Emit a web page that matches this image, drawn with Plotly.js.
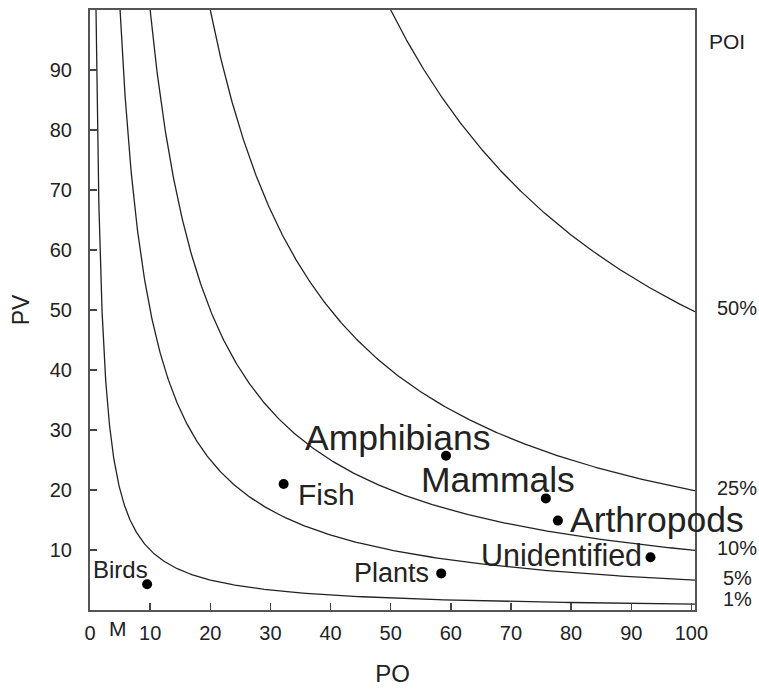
<!DOCTYPE html>
<html><head><meta charset="utf-8">
<script src="https://cdn.plot.ly/plotly-3.0.1.min.js"></script>
<style>html,body{margin:0;padding:0;background:#fff}#c{width:759px;height:691px}</style>
</head><body><div id="c"></div>
<script>
// Prey categories and their coordinates (PO = % occurrence, PV = % volume)
const categories = ["Birds","Fish","Plants","Amphibians","Mammals","Arthropods","Unidentified"];
const poValues   = [9.5, 32.2, 58.4, 59.2, 75.8, 77.8, 93.2];
const pvValues   = [4.3, 21.0, 6.1, 25.7, 18.6, 14.9, 8.8];
// Isoline constants (PO*PV) and their labels
const isoProducts = [100, 500, 1000, 2000, 5000];
const isoLabels   = ["1%","5%","10%","25%","50%"];
const xTicks = [0,10,20,30,40,50,60,70,80,90,100];
const yTicks = [10,20,30,40,50,60,70,80,90];

// label styles (font size, anchor, shifts in px)
const labelStyle = {
  Birds:        {size:24, xanchor:"center", xs:-27, ys:15},
  Fish:         {size:30, xanchor:"left",   xs:12,  ys:-10},
  Plants:       {size:27, xanchor:"right",  xs:-10, ys:0},
  Amphibians:   {size:35.5, xanchor:"center", xs:-48, ys:18},
  Mammals:      {size:35.5, xanchor:"center", xs:-48, ys:18},
  Arthropods:   {size:35.5, xanchor:"left",   xs:10,  ys:1},
  Unidentified: {size:30.5, xanchor:"right",  xs:-7, ys:2}
};

const font = "Liberation Sans, Arial, sans-serif";
const txt = "#222";
const traces = [];
isoProducts.forEach((k) => {
  const xs = [], ys = [];
  const x0 = k/100, x1 = 100.6, n = 300;
  for (let i = 0; i <= n; i++) {
    const x = x0 * Math.pow(x1/x0, i/n);
    xs.push(x); ys.push(k/x);
  }
  traces.push({x:xs, y:ys, mode:"lines", line:{color:"#222", width:1.3}, hoverinfo:"skip", showlegend:false});
});
traces.push({x:poValues, y:pvValues, mode:"markers", marker:{color:"#000", size:10}, showlegend:false});

const annotations = categories.map((c,i) => {
  const s = labelStyle[c];
  return {x:poValues[i], y:pvValues[i], xref:"x", yref:"y", text:c, showarrow:false,
    xanchor:s.xanchor, yanchor:"middle", xshift:s.xs, yshift:s.ys,
    font:{family:font, size:s.size, color:txt}};
});
isoProducts.forEach((k,i) => {
  annotations.push({x:1, xref:"paper", y:k/100, yref:"y", text:isoLabels[i], showarrow:false,
    xanchor:"center", yanchor:"middle", xshift:42, yshift:(i===0?5:2),
    font:{family:font, size:20, color:txt}});
});
annotations.push({x:1, xref:"paper", y:94.7, yref:"y", text:"POI", showarrow:false,
  xanchor:"center", yanchor:"middle", xshift:32, font:{family:font, size:21, color:txt}});
annotations.push({x:4.7, xref:"x", y:0, yref:"paper", text:"M", showarrow:false,
  xanchor:"center", yanchor:"top", yshift:-5, font:{family:font, size:21, color:txt}});

const layout = {
  width:759, height:691,
  margin:{l:90, r:64, t:10, b:81},
  paper_bgcolor:"#fff", plot_bgcolor:"#fff",
  xaxis:{range:[0,100.6], tickvals:xTicks, ticktext:xTicks.map(String), ticks:"inside", ticklen:7, tickwidth:1.5, tickcolor:"#444",
    showgrid:false, zeroline:false, showline:true, linecolor:"#555", linewidth:2, mirror:true,
    ticklabelstandoff:4,
    tickfont:{family:font, size:20, color:txt},
    title:{text:"PO", font:{family:font, size:24, color:txt}, standoff:22}},
  yaxis:{range:[0,100], tickvals:yTicks, ticktext:yTicks.map(String), ticks:"inside", ticklen:7, tickwidth:1.5, tickcolor:"#444",
    showgrid:false, zeroline:false, showline:true, linecolor:"#555", linewidth:2, mirror:true,
    ticklabelstandoff:12,
    tickfont:{family:font, size:20, color:txt},
    title:{text:"PV", font:{family:font, size:23, color:txt}, standoff:14}},
  annotations:annotations,
  showlegend:false
};
Plotly.newPlot("c", traces, layout, {displayModeBar:false, staticPlot:true});
</script></body></html>
